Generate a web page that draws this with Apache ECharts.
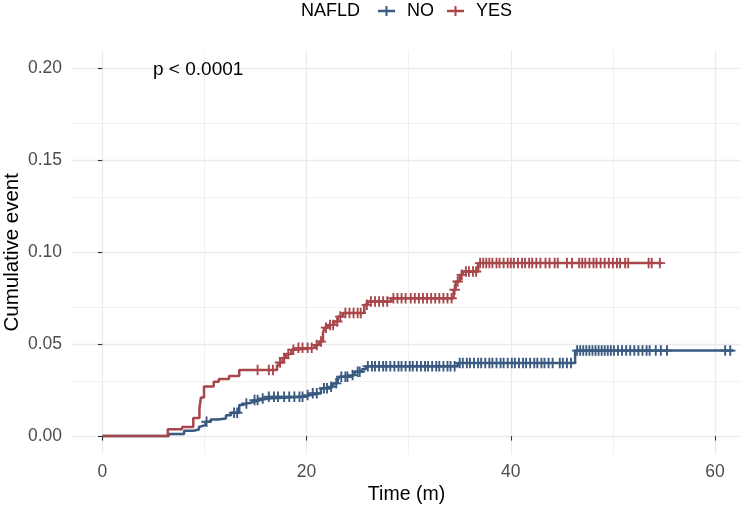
<!DOCTYPE html>
<html>
<head>
<meta charset="utf-8">
<script src="https://cdn.jsdelivr.net/npm/echarts@6/dist/echarts.min.js"></script>
<style>
  html, body { margin: 0; padding: 0; background: #fff; }
  #chart { width: 745px; height: 506px; }
</style>
</head>
<body>
<div id="chart"></div>
<script>
(function() {
  'use strict';

  var colorNo = '#3A5A81';
  var colorYes = '#A8474B';
  var colorGrid = '#EBEBEB';
  var colorTick = '#4D4D4D';
  var fontFamily = '"Liberation Sans", Arial, sans-serif';

  // step curves (time in months, cumulative event)
  var noTimes = [0, 6.5, 8.0, 8.9, 9.45, 9.6, 10.1, 10.6, 11.3, 12.1, 12.6, 13.4, 13.7, 14.2, 14.9, 15.5, 16.2, 19.8, 20.4, 21.4, 22.2, 22.6, 23.05, 23.2, 24.2, 24.7, 25.4, 25.8, 34.8, 46.3, 61.8];
  var noCum = [0, 0.0011, 0.0029, 0.0036, 0.005, 0.006, 0.0078, 0.009, 0.0096, 0.0114, 0.0127, 0.0169, 0.0178, 0.0187, 0.0196, 0.0205, 0.0214, 0.0223, 0.0233, 0.026, 0.0269, 0.0287, 0.0305, 0.0323, 0.0332, 0.035, 0.0363, 0.038, 0.0398, 0.0465, 0.0465];

  var yesTimes = [0, 6.4, 7.8, 8.9, 9.5, 9.65, 9.95, 10.9, 11.4, 12.4, 13.4, 17.1, 17.3, 17.65, 18.0, 18.5, 19.0, 20.8, 21.25, 21.6, 21.75, 22.1, 22.7, 23.05, 23.55, 25.65, 26.0, 28.3, 34.4, 34.6, 35.0, 35.3, 36.8, 54.8];
  var yesCum = [0, 0.0038, 0.005, 0.0098, 0.015, 0.021, 0.027, 0.0296, 0.031, 0.0327, 0.036, 0.0385, 0.040, 0.0425, 0.0447, 0.047, 0.048, 0.0496, 0.0514, 0.056, 0.059, 0.0605, 0.0623, 0.065, 0.0669, 0.0714, 0.0732, 0.075, 0.0796, 0.0841, 0.0877, 0.0895, 0.0941, 0.0941];

  // censoring times
  var noCensor = [10.2, 12.9, 13.2, 14.1, 14.9, 15.2, 15.7, 16.3, 16.8, 17.2, 17.8, 18.3, 18.8, 19.3, 19.6, 20.1, 20.6, 21.0, 21.7, 22.0, 22.4, 22.9, 23.4, 23.8, 24.0, 24.5, 25.0, 25.2, 26.0, 26.4, 26.7, 27.1, 27.5, 27.8, 28.2, 28.6, 29.0, 29.3, 29.7, 30.1, 30.4, 30.8, 31.2, 31.6, 31.9, 32.3, 32.7, 33.0, 33.4, 33.8, 34.1, 34.5, 35.0, 35.3, 35.7, 36.0, 36.4, 36.8, 37.1, 37.5, 37.9, 38.2, 38.6, 39.0, 39.3, 39.7, 40.1, 40.4, 40.8, 41.2, 41.5, 41.9, 42.3, 42.6, 43.0, 43.3, 43.7, 44.1, 44.8, 45.1, 45.5, 45.9, 46.5, 46.8, 47.1, 47.4, 47.7, 48.0, 48.3, 48.6, 48.9, 49.2, 49.5, 49.8, 50.1, 50.5, 50.9, 51.3, 51.7, 52.1, 52.5, 52.9, 53.3, 53.6, 54.2, 54.7, 55.3, 61.0, 61.5];
  var yesCensor = [15.2, 16.3, 16.7, 17.4, 17.8, 18.2, 18.7, 19.2, 19.6, 20.1, 20.5, 21.0, 21.4, 21.9, 22.3, 22.6, 23.0, 23.3, 23.8, 24.2, 24.6, 25.0, 25.3, 25.9, 26.3, 26.7, 27.1, 27.5, 27.9, 28.5, 28.9, 29.3, 29.7, 30.2, 30.6, 31.0, 31.4, 31.8, 32.2, 32.6, 33.0, 33.4, 33.8, 34.2, 34.5, 34.8, 35.2, 35.6, 35.9, 36.3, 36.6, 37.0, 37.3, 37.6, 37.9, 38.2, 38.6, 38.9, 39.3, 39.7, 40.0, 40.3, 40.7, 41.1, 41.4, 41.8, 42.1, 42.5, 42.9, 43.4, 43.8, 44.3, 44.6, 45.5, 46.0, 46.7, 47.0, 47.3, 47.7, 48.1, 48.4, 48.8, 49.2, 49.6, 50.0, 50.4, 50.7, 51.2, 51.5, 53.5, 53.8, 54.6];

  var xTicks = [0, 20, 40, 60];
  var xGridMajor = [0, 20, 40, 60];
  var xGridMinor = [10, 30, 50];
  var yTicks = [0, 0.05, 0.10, 0.15, 0.20];
  var yGridMinor = [0.025, 0.075, 0.125, 0.175];

  var plusPath = 'path://M4.1,0H5.9V4.1H10V5.9H5.9V10H4.1V5.9H0V4.1H4.1Z';
  var legendPath = 'path://M0,4.8H17V7.2H0Z M7.5,1H9.5V11H7.5Z';

  function pairs(ts, vs) {
    return ts.map(function(t, i) { return [t, vs[i]]; });
  }
  function stepAt(ts, vs, t) {
    var v = 0;
    for (var i = 0; i < ts.length; i++) { if (ts[i] <= t) v = vs[i]; }
    return v;
  }
  function censorPts(cs, ts, vs) {
    return cs.map(function(t) { return [t, stepAt(ts, vs, t)]; });
  }

  var gridLines = [];
  xGridMajor.forEach(function(v) { gridLines.push({ xAxis: v, lineStyle: { width: 1.3 } }); });
  xGridMinor.forEach(function(v) { gridLines.push({ xAxis: v, lineStyle: { width: 0.7 } }); });
  yTicks.forEach(function(v) { gridLines.push({ yAxis: v, lineStyle: { width: 1.3 } }); });
  yGridMinor.forEach(function(v) { gridLines.push({ yAxis: v, lineStyle: { width: 0.7 } }); });

  var chart = echarts.init(document.getElementById('chart'), null, { renderer: 'canvas' });
  chart.setOption({
    animation: false,
    textStyle: { fontFamily: fontFamily },
    title: {
      text: 'NAFLD', left: 301, top: 2, padding: 0,
      textStyle: { fontSize: 18, fontWeight: 'normal', color: '#000', fontFamily: fontFamily }
    },
    legend: {
      data: [
        { name: 'NO', icon: legendPath, itemStyle: { color: colorNo } },
        { name: 'YES', icon: legendPath, itemStyle: { color: colorYes } }
      ],
      left: 378, top: 2, padding: 0, itemWidth: 17, itemHeight: 12, itemGap: 13,
      textStyle: { fontSize: 18, color: '#000', fontFamily: fontFamily, padding: [0, 0, 0, 7] }
    },
    graphic: [{
      type: 'text', left: 153, top: 60, z: 100,
      style: { text: 'p < 0.0001', fontSize: 19, fill: '#000', fontFamily: fontFamily }
    }],
    grid: { left: 72, top: 50, width: 669, height: 404.5, outerBoundsMode: 'none', containLabel: false },
    xAxis: {
      type: 'value', min: -2.98, max: 62.55,
      name: 'Time (m)', nameLocation: 'middle', nameGap: 30, nameMoveOverlap: false,
      nameTextStyle: { fontSize: 19.5, color: '#000' },
      axisLine: { show: false },
      axisTick: { show: true, customValues: xTicks, length: 4.5, lineStyle: { color: '#333', width: 1.1 } },
      axisLabel: { customValues: xTicks, fontSize: 17.5, color: colorTick, margin: 9 },
      splitLine: { show: false }
    },
    yAxis: {
      type: 'value', min: -0.01, max: 0.21,
      name: 'Cumulative event', nameLocation: 'middle', nameGap: 49, nameMoveOverlap: false,
      nameTextStyle: { fontSize: 20.5, color: '#000' },
      axisLine: { show: false },
      axisTick: { show: true, customValues: yTicks, length: 4.5, lineStyle: { color: '#333', width: 1.1 } },
      axisLabel: { customValues: yTicks, fontSize: 17.5, color: colorTick, margin: 10,
        formatter: function(v) { return v.toFixed(2); } },
      splitLine: { show: false }
    },
    series: [
      {
        name: 'grid', type: 'line', data: [], z: 0, silent: true,
        markLine: { silent: true, symbol: 'none', label: { show: false }, z: 0,
          lineStyle: { color: colorGrid, type: 'solid' }, data: gridLines }
      },
      {
        name: 'NO', type: 'line', step: 'end', showSymbol: false, symbol: 'none',
        data: pairs(noTimes, noCum), z: 5,
        lineStyle: { width: 2.5, color: colorNo }, itemStyle: { color: colorNo }
      },
      {
        name: 'YES', type: 'line', step: 'end', showSymbol: false, symbol: 'none',
        data: pairs(yesTimes, yesCum), z: 6,
        lineStyle: { width: 2.5, color: colorYes }, itemStyle: { color: colorYes }
      },
      {
        name: 'NO', type: 'scatter', symbol: plusPath, symbolSize: 10.5, z: 7,
        data: censorPts(noCensor, noTimes, noCum), itemStyle: { color: colorNo, opacity: 1 }
      },
      {
        name: 'YES', type: 'scatter', symbol: plusPath, symbolSize: 10.5, z: 8,
        data: censorPts(yesCensor, yesTimes, yesCum), itemStyle: { color: colorYes, opacity: 1 }
      }
    ]
  });
})();
</script>
</body>
</html>
